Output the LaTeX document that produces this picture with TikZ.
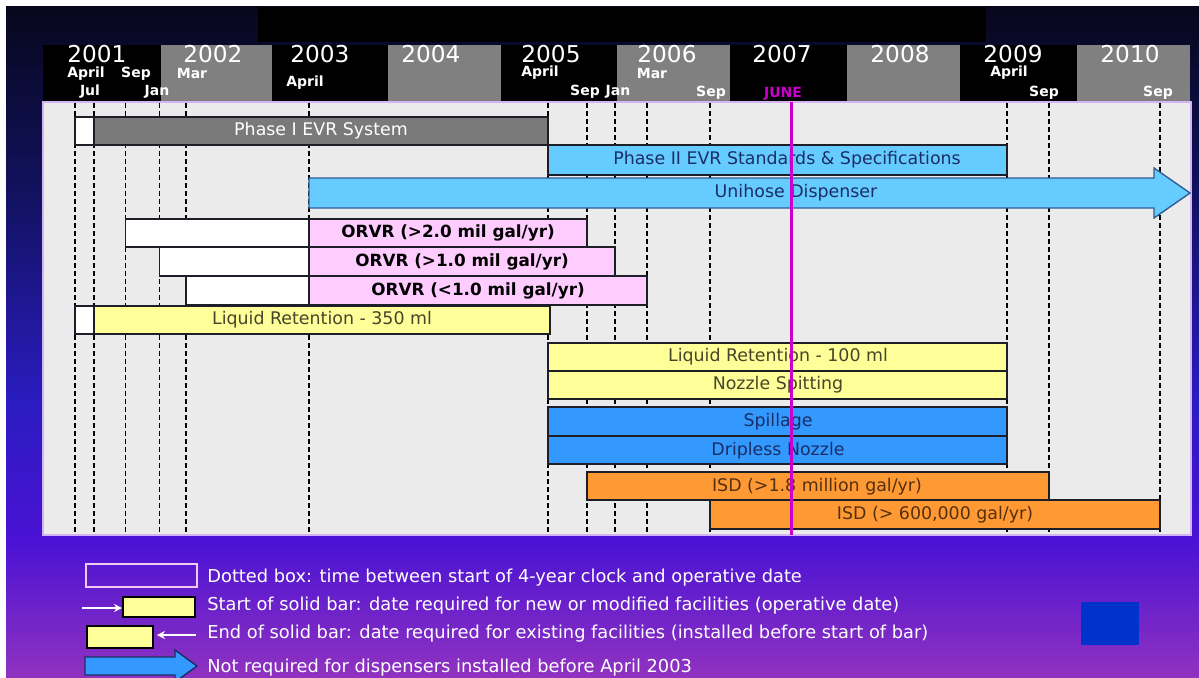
\documentclass[tikz,border=0pt]{standalone}
\usepackage{fontspec}
\setmainfont{DejaVu Sans}
\usetikzlibrary{arrows.meta}
\definecolor{bgA}{HTML}{07071C}
\definecolor{bgB}{HTML}{121262}
\definecolor{bgC}{HTML}{2A1CC0}
\definecolor{bgD}{HTML}{4A12D4}
\definecolor{bgE}{HTML}{9032C0}
\definecolor{chartbg}{HTML}{EBEBEB}
\definecolor{chartedge}{HTML}{D2B4F4}
\definecolor{hdrgray}{HTML}{808080}
\definecolor{phgray}{HTML}{7A7A7A}
\definecolor{ltblue}{HTML}{66CCFF}
\definecolor{pinkf}{HTML}{FFCCFF}
\definecolor{yelf}{HTML}{FFFF99}
\definecolor{bluef}{HTML}{3399FF}
\definecolor{orangef}{HTML}{FF9933}
\definecolor{mag}{HTML}{CC00CC}
\definecolor{navytxt}{HTML}{1A2E66}
\definecolor{olivetxt}{HTML}{45452A}
\definecolor{browntxt}{HTML}{55300E}
\definecolor{edge}{HTML}{1E1E28}
\definecolor{legpink}{HTML}{F0C8F0}
\definecolor{sqblue}{HTML}{0033CC}
\tikzset{
  bar/.style={draw=edge, line width=0.7pt},
  dline/.style={black, line width=0.8pt, dash pattern=on 2.5pt off 1.5pt},
  magline/.style={mag, line width=1.5pt},
  lbl/.style={font=\fontsize{8.7}{10}\selectfont, inner sep=0pt},
  blbl/.style={font=\bfseries\fontsize{8.4}{10}\selectfont, inner sep=0pt},
  yr/.style={font=\fontsize{11.6}{12}\selectfont, text=white, inner sep=0pt},
  mon/.style={font=\bfseries\fontsize{7}{8}\selectfont, text=white, inner sep=0pt},
  legtxt/.style={font=\fontsize{8.9}{10}\selectfont, text=white, inner sep=0pt, anchor=west},
  wharrow/.style={white, line width=1pt, -{Stealth[length=4pt,width=4pt]}},
}
\begin{document}
\begin{tikzpicture}[x=0.5pt,y=-0.5pt]
\useasboundingbox (0,0) rectangle (1199,677);
\clip (0,0) rectangle (1199,677);
% background
\fill[white] (0,0) rectangle (1199,677);
\shade[top color=bgA,bottom color=bgB] (6,6) rectangle (1199,201);
\shade[top color=bgB,bottom color=bgC] (6,200) rectangle (1199,401);
\shade[top color=bgC,bottom color=bgD] (6,400) rectangle (1199,541);
\shade[top color=bgD,bottom color=bgE] (6,540) rectangle (1199,677);
% title bar
\fill[black] (258,7) rectangle (986,42);
% header
\fill[black] (43,45) rectangle (1190,102);
\foreach \a/\b in {161/272,388/501,617/730,847/960,1077/1190}
  \fill[hdrgray] (\a,45) rectangle (\b,102);
\node[yr] (y2001) at (97,54) {2001};
\node[yr] (y2002) at (213,54) {2002};
\node[yr] (y2003) at (320,54) {2003};
\node[yr] (y2004) at (431,54) {2004};
\node[yr] (y2005) at (551,54) {2005};
\node[yr] (y2006) at (667,54) {2006};
\node[yr] (y2007) at (782,54) {2007};
\node[yr] (y2008) at (900,54) {2008};
\node[yr] (y2009) at (1013,54) {2009};
\node[yr] (y2010) at (1130,54) {2010};
\node[mon] (m1) at (86,74) {April};
\node[mon] (m2) at (136,74) {Sep};
\node[mon] (m3) at (192,73) {Mar};
\node[mon] (m4) at (90,92) {Jul};
\node[mon] (m5) at (157,92) {Jan};
\node[mon] (m6) at (305,83) {April};
\node[mon] (m7) at (540,73) {April};
\node[mon] (m8) at (585,92) {Sep};
\node[mon] (m9) at (618,92) {Jan};
\node[mon] (m10) at (652,73) {Mar};
\node[mon] (m11) at (711,93) {Sep};
\node[mon, text=mag] (m12) at (783,94) {JUNE};
\node[mon] (m13) at (1009,73) {April};
\node[mon] (m14) at (1044,93) {Sep};
\node[mon] (m15) at (1158,93) {Sep};
% chart area
\filldraw[fill=chartbg, draw=chartedge, line width=1.2pt] (43,102) rectangle (1191,535);
\foreach \x in {75,94,125.5,159.6,186,309,548,587,615,647,710,1007,1049,1160}
  \draw[dline] (\x,103) -- (\x,534);
% Phase I
\filldraw[bar, fill=white] (75,117) rectangle (94,145);
\filldraw[bar, fill=phgray] (94,117) rectangle (548,145);
\node[lbl, text=white] (phase1) at (321,131) {Phase I EVR System};
% Phase II
\filldraw[bar, fill=ltblue] (548,145) rectangle (1007,175);
\node[lbl, text=navytxt] (phase2) at (787,160) {Phase II EVR Standards \& Specifications};
% Unihose arrow
\filldraw[draw=navytxt!70!ltblue, line width=0.7pt, fill=ltblue] (309,178) -- (1154,178) -- (1154,168) -- (1190,193) -- (1154,218) -- (1154,208) -- (309,208) -- cycle;
\node[lbl, text=navytxt] (unihose) at (796,193) {Unihose Dispenser};
% ORVR
\filldraw[bar, fill=white] (125.5,219) rectangle (309,247);
\filldraw[bar, fill=pinkf] (309,219) rectangle (587,247);
\node[blbl, text=black] (orvr1) at (448,233) {ORVR (>2.0 mil gal/yr)};
\filldraw[bar, fill=white] (159.6,247) rectangle (309,276);
\filldraw[bar, fill=pinkf] (309,247) rectangle (615,276);
\node[blbl, text=black] (orvr2) at (462,262) {ORVR (>1.0 mil gal/yr)};
\filldraw[bar, fill=white] (186,276) rectangle (309,305);
\filldraw[bar, fill=pinkf] (309,276) rectangle (647,305);
\node[blbl, text=black] (orvr3) at (478,291) {ORVR (<1.0 mil gal/yr)};
% Liquid retention 350
\filldraw[bar, fill=white] (75,306) rectangle (94,334);
\filldraw[bar, fill=yelf] (94,306) rectangle (550,334);
\node[lbl, text=olivetxt] (lr350) at (322,320) {Liquid Retention - 350 ml};
% Liquid retention 100 / nozzle spitting
\filldraw[bar, fill=yelf] (548,343) rectangle (1007,371);
\node[lbl, text=olivetxt] (lr100) at (778,357) {Liquid Retention - 100 ml};
\filldraw[bar, fill=yelf] (548,371) rectangle (1007,399);
\node[lbl, text=olivetxt] (spit) at (778,385) {Nozzle Spitting};
% Spillage / dripless
\filldraw[bar, fill=bluef] (548,407) rectangle (1007,436);
\node[lbl, text=navytxt] (spill) at (778,422) {Spillage};
\filldraw[bar, fill=bluef] (548,436) rectangle (1007,464);
\node[lbl, text=navytxt] (drip) at (778,451) {Dripless Nozzle};
% ISD
\filldraw[bar, fill=orangef] (587,472) rectangle (1049,500);
\node[lbl, text=browntxt] (isd1) at (817,487) {ISD (>1.8 million gal/yr)};
\filldraw[bar, fill=orangef] (710,500) rectangle (1160,529);
\node[lbl, text=browntxt] (isd2) at (935,515) {ISD (> 600,000 gal/yr)};
% June 2007 line
\draw[magline] (791,102) -- (791,535);
% legend
\node[draw=legpink, line width=1pt, minimum width=55.5pt, minimum height=11.5pt, inner sep=0pt] (lg1) at (141.5,575.5) {};
\node[draw=black, fill=yelf, line width=1pt, minimum width=36pt, minimum height=10pt, inner sep=0pt] (lg2) at (159,607) {};
\node[draw=black, fill=yelf, line width=1pt, minimum width=33pt, minimum height=11pt, inner sep=0pt] (lg3) at (120,637) {};
\coordinate (a2s) at (82,608);
\coordinate (a3s) at (196,635);
\draw[wharrow] (a2s) -- (lg2.west |- a2s);
\draw[wharrow] (a3s) -- ([xshift=1.5pt]lg3.east |- a3s);
\filldraw[draw=navytxt, line width=0.7pt, fill=bluef] (85,657) -- (175,657) -- (175,650) -- (197,666) -- (175,682) -- (175,675) -- (85,675) -- cycle;
\node[legtxt] (lt1) at (207,578) {Dotted box: time between start of 4-year clock and operative date};
\node[legtxt] (lt2) at (207,606) {Start of solid bar: date required for new or modified facilities (operative date)};
\node[legtxt] (lt3) at (207,634) {End of solid bar: date required for existing facilities (installed before start of bar)};
\node[legtxt] (lt4) at (207,668) {Not required for dispensers installed before April 2003};
\fill[sqblue] (1081,602) rectangle (1139,645);
\end{tikzpicture}
\end{document}
